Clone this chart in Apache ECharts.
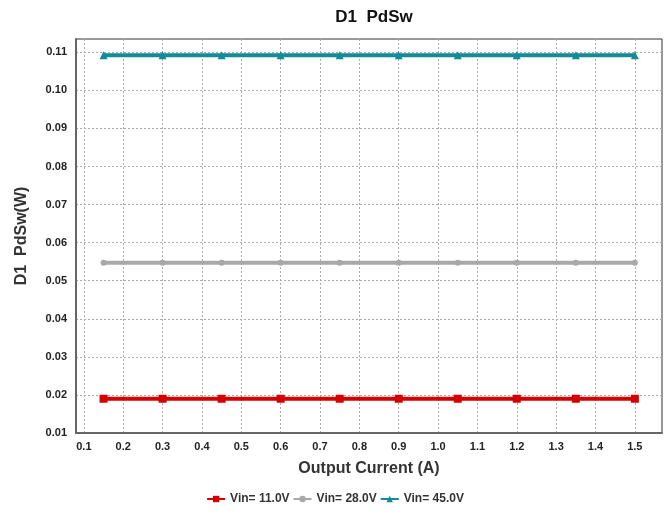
<!DOCTYPE html>
<html><head><meta charset="utf-8">
<script src="https://cdn.jsdelivr.net/npm/echarts@6/dist/echarts.min.js"></script>
<style>html,body{margin:0;padding:0;background:#fff}#c{width:670px;height:515px}</style>
</head><body><div id="c"></div>
<script>
const xValues = [0.15,0.3,0.45,0.6,0.75,0.9,1.05,1.2,1.35,1.5];
const vin11 = [0.0190,0.0190,0.0190,0.0190,0.0190,0.0190,0.0190,0.0190,0.0190,0.0190];
const vin28 = [0.0547,0.0547,0.0547,0.0547,0.0547,0.0547,0.0547,0.0547,0.0547,0.0547];
const vin45 = [0.1092,0.1092,0.1092,0.1092,0.1092,0.1092,0.1092,0.1092,0.1092,0.1092];
const xTicks = [0.1,0.2,0.3,0.4,0.5,0.6,0.7,0.8,0.9,1.0,1.1,1.2,1.3,1.4,1.5];
const yTicks = [0.01,0.02,0.03,0.04,0.05,0.06,0.07,0.08,0.09,0.10,0.11];
const seriesNames = ['Vin= 11.0V','Vin= 28.0V','Vin= 45.0V'];
const colors = ['#d40000','#a8a8a8','#128c96'];

const font = 'Liberation Sans, Arial, sans-serif';
const chart = echarts.init(document.getElementById('c'));
function mk(name, vals, color, symbol, size){
  return {name, type:'line', data: xValues.map((x,i)=>[x, vals[i]]),
    color, symbol, symbolSize:size, showSymbol:true,
    lineStyle:{width:4,color}, itemStyle:{color}, z:3};
}
chart.setOption({
  animation:false,
  title:{text:'D1  PdSw', left:369, top:4, textAlign:'center',
    textStyle:{fontFamily:font, fontWeight:'bold', fontSize:17, color:'#111'}},
  grid:{left:76, top:39, right:8, bottom:82, show:true, borderColor:'#333', borderWidth:1},
  legend:{bottom:5, left:'center', itemWidth:18, itemHeight:8, itemGap:3,
    textStyle:{fontFamily:font, fontWeight:'bold', fontSize:12, color:'#333'},
    data:seriesNames},
  xAxis:{type:'value', min:0.08, max:1.569,
    name:'Output Current (A)', nameLocation:'middle', nameGap:28,
    nameTextStyle:{fontFamily:font, fontWeight:'bold', fontSize:16, color:'#333'},
    axisLine:{show:true, onZero:false, lineStyle:{color:'#666', width:2}},
    axisTick:{show:false, customValues:xTicks},
    axisLabel:{customValues:xTicks, formatter:v=>v.toFixed(1), margin:8,
      fontFamily:font, fontWeight:'bold', fontSize:11, color:'#222'},
    splitLine:{show:true, lineStyle:{color:'#aaa', type:[2,2], width:1}}},
  yAxis:{type:'value', min:0.01, max:0.1135,
    name:'D1  PdSw(W)', nameLocation:'middle', nameGap:46,
    nameTextStyle:{fontFamily:font, fontWeight:'bold', fontSize:16, color:'#333'},
    axisLine:{show:true, onZero:false, lineStyle:{color:'#666', width:2}},
    axisTick:{show:false, customValues:yTicks},
    axisLabel:{customValues:yTicks, formatter:v=>v.toFixed(2), margin:9,
      fontFamily:font, fontWeight:'bold', fontSize:11, color:'#222'},
    splitLine:{show:true, lineStyle:{color:'#aaa', type:[2,2], width:1}}},
  series:[
    mk(seriesNames[0], vin11, colors[0], 'rect', 8),
    mk(seriesNames[1], vin28, colors[1], 'circle', 6),
    mk(seriesNames[2], vin45, colors[2], 'triangle', 8)
  ]
});
</script></body></html>
